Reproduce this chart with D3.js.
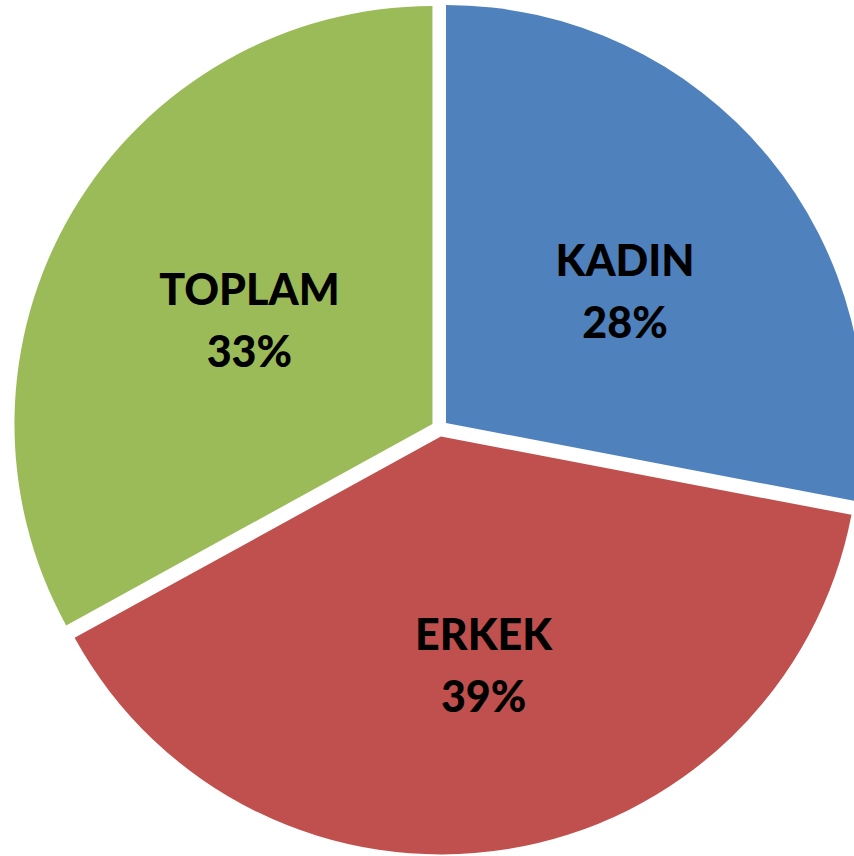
<!DOCTYPE html>
<html lang="tr">
  <head>
    <meta charset="utf-8">
    <title>Kadin / Erkek / Toplam</title>
    <script src="https://d3js.org/d3.v7.min.js"></script>
    <style>
      body { margin: 0; background: #fff; }
      svg text { font-family: Lato, "Open Sans", sans-serif; font-weight: 900; fill: #000; }
    </style>
  </head>
  <body>
    <svg id="pieSVG" width="854" height="856">
      <g id="plot" transform="translate(439.6,428.3)"></g>
    </svg>

    <script type="text/javascript">
      var categories = ["KADIN", "ERKEK", "TOPLAM"];
      var values = [28, 39, 33];
      var colors = ["#4f81bd", "#c0504d", "#9bbb59"];

      var radius = 418;
      var explode = 8.3;

      var data = categories.map(function (c, i) {
        return { name: c, value: values[i], color: colors[i] };
      });

      var pie = d3.pie().sort(null).value(d => d.value);
      var arc = d3.arc().innerRadius(0).outerRadius(radius);
      var labelArc = d3.arc().innerRadius(222).outerRadius(222);
      var total = d3.sum(values);

      var slices = d3.select("g#plot").selectAll("g.slice").data(pie(data))
        .enter().append("g").attr("class", "slice")
        .attr("transform", function (d) {
          var a = (d.startAngle + d.endAngle) / 2;
          return "translate(" + (explode * Math.sin(a)) + "," + (-explode * Math.cos(a)) + ")";
        });

      slices.append("path").attr("d", arc).attr("fill", d => d.data.color);

      var labels = slices.append("text")
        .attr("text-anchor", "middle")
        .attr("transform", function (d) {
          var c = labelArc.centroid(d);
          return "translate(" + (c[0] + 8) + "," + (c[1] + 9) + ")";
        })
        .style("font-size", "43px");

      labels.append("tspan").attr("x", 0).attr("y", -15).text(d => d.data.name);
      labels.append("tspan").attr("x", 0).attr("y", 47)
        .text(d => Math.round(d.data.value / total * 100) + "%");
    </script>
  </body>
</html>
